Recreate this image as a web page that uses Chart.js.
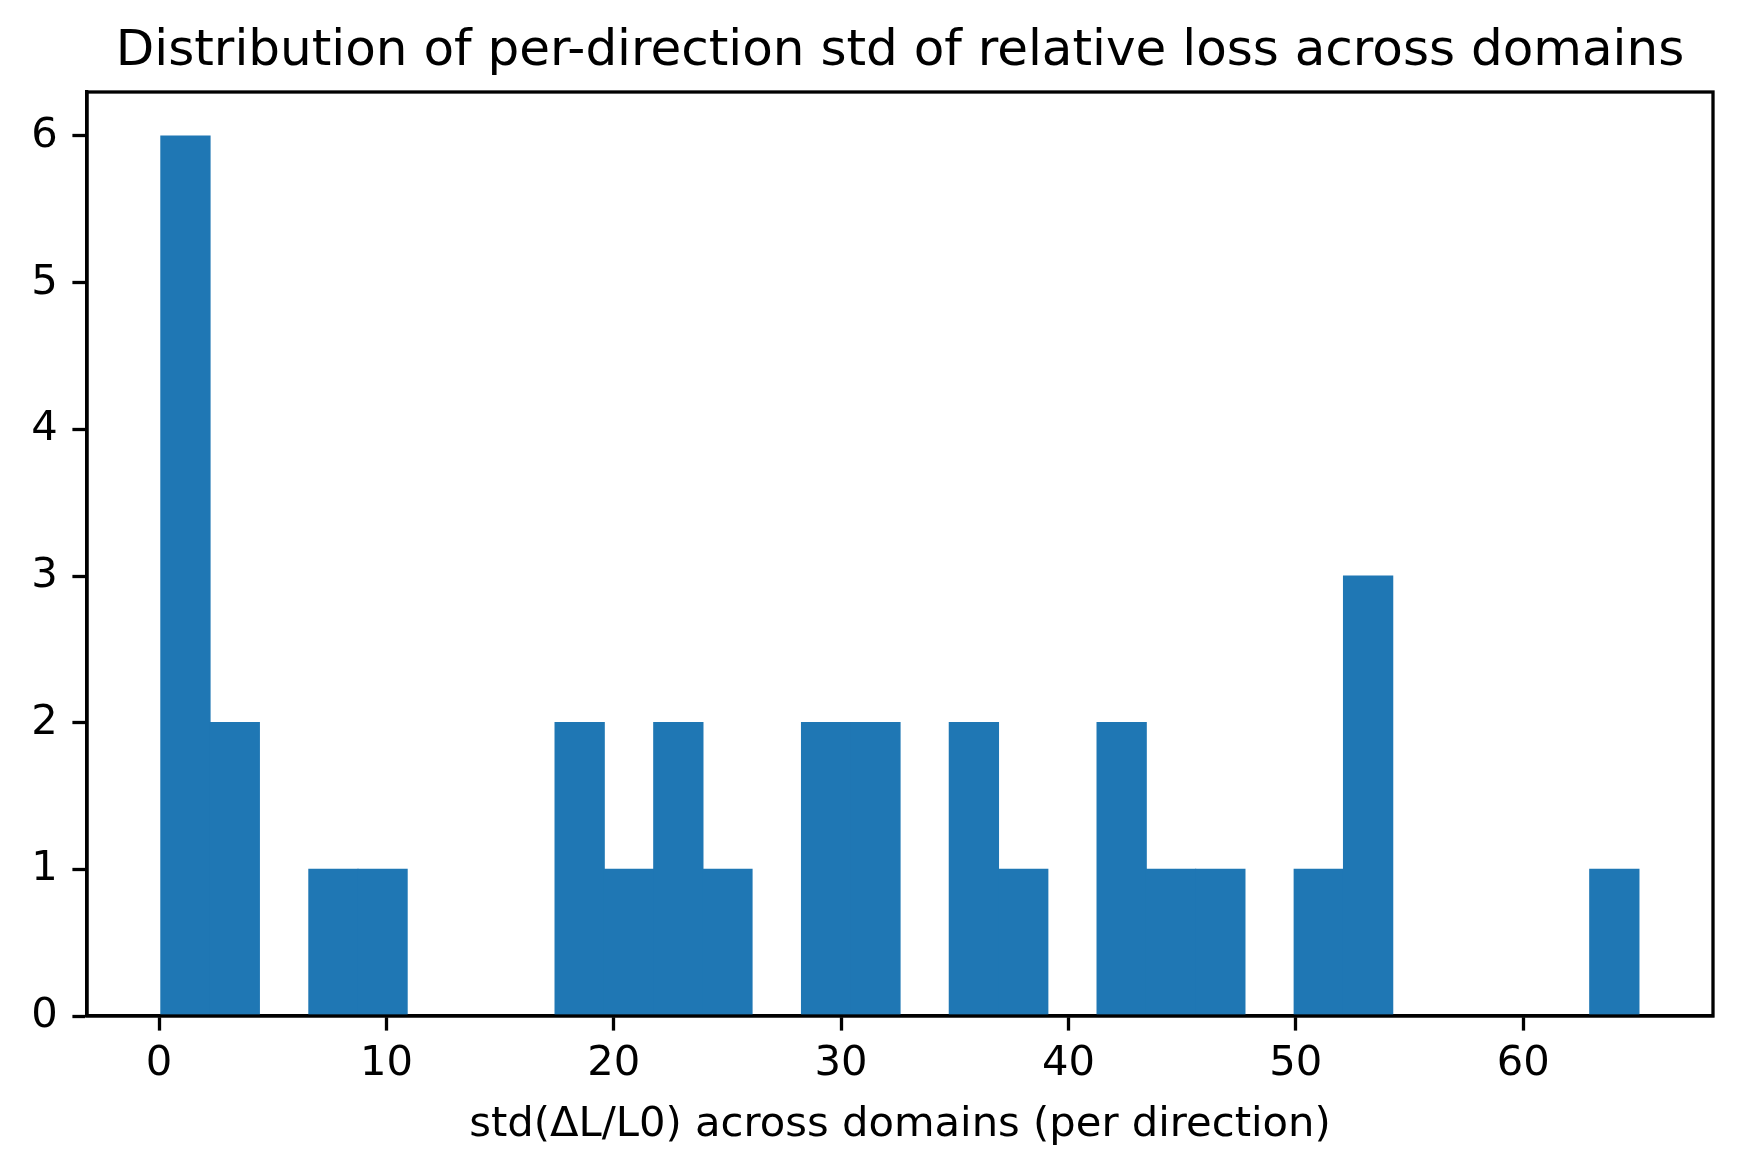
<!DOCTYPE html>
<html>
<head>
<meta charset="utf-8">
<script src="https://cdn.jsdelivr.net/npm/chart.js@4"></script>
<style>
  html, body { margin: 0; padding: 0; background: #ffffff; }
  #wrap { width: 1743px; height: 1176px; }
</style>
</head>
<body>
<div id="wrap"><canvas id="c" width="1743" height="1176"></canvas></div>
<script>
// ---- data (30 bins) ----
const binCenters = [1.16, 3.33, 5.50, 7.67, 9.83, 12.00, 14.17, 16.33, 18.50, 20.67,
                    22.84, 25.00, 27.17, 29.34, 31.51, 33.67, 35.84, 38.01, 40.17, 42.34,
                    44.51, 46.68, 48.84, 51.01, 53.18, 55.35, 57.51, 59.68, 61.85, 64.01];
const counts     = [6, 2, 0, 1, 1, 0, 0, 0, 2, 1,
                    2, 1, 0, 2, 2, 0, 2, 1, 0, 2,
                    1, 1, 0, 1, 3, 0, 0, 0, 0, 1];
const xTicks = [0, 10, 20, 30, 40, 50, 60];
const yTicks = [0, 1, 2, 3, 4, 5, 6];
const xLimits = [-3.17, 68.35];
const yLimits = [0, 6.3];
const titleText = 'Distribution of per-direction std of relative loss across domains';
const xLabel = 'std(ΔL/L0) across domains (per direction)';

const FONT = 'DejaVu Sans';
const LW = 3.3;

const framePlugin = {
  id: 'frame',
  afterDraw(chart) {
    const a = chart.chartArea, ctx = chart.ctx;
    ctx.save();
    ctx.strokeStyle = '#000';
    ctx.lineWidth = LW;
    ctx.lineJoin = 'miter';
    ctx.strokeRect(a.left, a.top, a.right - a.left, a.bottom - a.top);
    ctx.restore();
  }
};

new Chart(document.getElementById('c'), {
  type: 'bar',
  data: {
    datasets: [{
      data: binCenters.map((x, i) => ({ x: x, y: counts[i] })),
      backgroundColor: '#1f77b4',
      borderWidth: 0,
      inflateAmount: 0.6,
      barPercentage: 1.0,
      categoryPercentage: 1.0
    }]
  },
  options: {
    responsive: false,
    devicePixelRatio: 1,
    animation: false,
    layout: { padding: { left: 0, right: 30, top: 0, bottom: 0 } },
    plugins: {
      legend: { display: false },
      tooltip: { enabled: false },
      title: {
        display: true,
        text: titleText,
        fullSize: false,
        color: '#000',
        font: { family: FONT, size: 50, weight: 'normal' },
        padding: { top: 22, bottom: 10 }
      }
    },
    scales: {
      x: {
        type: 'linear',
        min: xLimits[0],
        max: xLimits[1],
        offset: false,
        afterBuildTicks(scale) { scale.ticks = xTicks.map(v => ({ value: v })); },
        afterFit(scale) { scale.height = 160; },
        grid: { display: true, offset: false, drawOnChartArea: false, drawTicks: true,
                tickLength: 14.6, tickWidth: LW, tickColor: '#000', color: '#000' },
        border: { display: true, color: '#000', width: LW },
        ticks: { color: '#000', padding: 8.6, maxRotation: 0, autoSkip: false,
                 font: { family: FONT, size: 41.7 } },
        title: { display: true, text: xLabel, color: '#000',
                 font: { family: FONT, size: 41.7, weight: 'normal' },
                 padding: { top: 0, bottom: 26 } }
      },
      y: {
        type: 'linear',
        min: yLimits[0],
        max: yLimits[1],
        afterBuildTicks(scale) { scale.ticks = yTicks.map(v => ({ value: v })); },
        afterFit(scale) { scale.width = 87; },
        grid: { display: true, offset: false, drawOnChartArea: false, drawTicks: true,
                tickLength: 14.6, tickWidth: LW, tickColor: '#000', color: '#000' },
        border: { display: true, color: '#000', width: LW },
        ticks: { color: '#000', padding: 14.6, autoSkip: false,
                 font: { family: FONT, size: 41.7 } }
      }
    }
  },
  plugins: [framePlugin]
});
</script>
</body>
</html>
